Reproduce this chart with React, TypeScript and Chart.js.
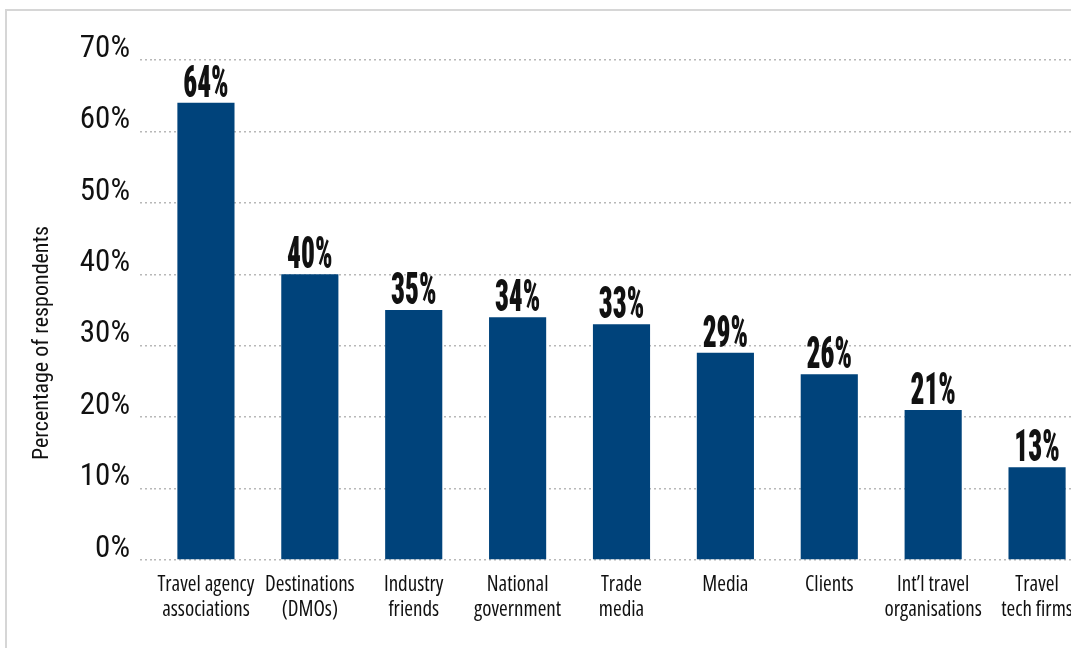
import React, { useEffect, useRef } from "react";
import { Chart, registerables } from "chart.js";

Chart.register(...registerables);

const categories: string[][] = [
  ["Travel agency", "associations"],
  ["Destinations", "(DMOs)"],
  ["Industry", "friends"],
  ["National", "government"],
  ["Trade", "media"],
  ["Media"],
  ["Clients"],
  ["Int\u2019l travel", "organisations"],
  ["Travel", "tech firms"],
];
const values: number[] = [64, 40, 35, 34, 33, 29, 26, 21, 13];
const yTickValues: number[] = [0, 10, 20, 30, 40, 50, 60, 70];
const yAxisTitle = "Percentage of respondents";

const BAR_COLOR = "#00437b";
const TEXT_COLOR = "#111111";
const GRID_COLOR = "#b8b8b8";
const FONT = "'Roboto Condensed', 'Liberation Sans', sans-serif";
const XFONT = "'Open Sans', 'Roboto Condensed', sans-serif";

const valueLabelPlugin = {
  id: "valueLabels",
  afterDatasetsDraw(chart: any) {
    const ctx = chart.ctx;
    const meta = chart.getDatasetMeta(0);
    ctx.save();
    ctx.fillStyle = TEXT_COLOR;
    ctx.font = `900 44px ${FONT}`;
    ctx.textAlign = "center";
    ctx.textBaseline = "alphabetic";
    meta.data.forEach((bar: any, i: number) => {
      const v = chart.data.datasets[0].data[i];
      ctx.save();
      ctx.translate(bar.x, bar.y - 6);
      ctx.scale(0.62, 1);
      ctx.fillText(`${v}%`, 0, 0);
      ctx.restore();
    });
    ctx.restore();
  },
};

const yTitlePlugin = {
  id: "yTitle",
  afterDraw(chart: any) {
    const ctx = chart.ctx;
    ctx.save();
    ctx.translate(42, 343);
    ctx.rotate(-Math.PI / 2);
    ctx.fillStyle = TEXT_COLOR;
    ctx.font = `22px ${FONT}`;
    ctx.textAlign = "center";
    ctx.textBaseline = "middle";
    ctx.fillText(yAxisTitle, 0, 0);
    ctx.restore();
  },
};

export default function App() {
  const canvasRef = useRef<HTMLCanvasElement | null>(null);

  useEffect(() => {
    if (!canvasRef.current) return;
    const chart = new Chart(canvasRef.current, {
      type: "bar",
      data: {
        labels: categories,
        datasets: [
          {
            data: values,
            backgroundColor: BAR_COLOR,
            borderWidth: 0,
            categoryPercentage: 1,
            barPercentage: 0.55,
          },
        ],
      },
      options: {
        animation: false,
        responsive: false,
        layout: { padding: { top: 60, right: 11, bottom: 0, left: 0 } },
        plugins: {
          legend: { display: false },
          tooltip: { enabled: false },
          title: { display: false },
        },
        scales: {
          x: {
            grid: { display: false },
            border: { display: false },
            ticks: {
              color: TEXT_COLOR,
              font: { family: XFONT, size: 21, weight: "condensed", lineHeight: 1.2 },
              padding: 4,
              autoSkip: false,
              maxRotation: 0,
              minRotation: 0,
            },
            afterFit: (s: any) => {
              s.height = 88;
            },
          },
          y: {
            min: 0,
            max: 70,
            afterBuildTicks: (s: any) => {
              s.ticks = yTickValues.map((v) => ({ value: v }));
            },
            grid: {
              color: GRID_COLOR,
              lineWidth: 1.5,
              drawTicks: true,
              tickLength: 14,
              tickColor: GRID_COLOR,
              tickWidth: 1.5,
              tickBorderDash: [2, 3],
            },
            border: { display: false, dash: [2, 3] },
            ticks: {
              color: TEXT_COLOR,
              font: { family: FONT, size: 31 },
              padding: 10,
              labelOffset: -11,
              callback: (v: any) => `${v}%`,
            },
            afterFit: (s: any) => {
              s.width = 154;
            },
          },
        },
      },
      plugins: [valueLabelPlugin, yTitlePlugin],
    });
    return () => chart.destroy();
  }, []);

  return (
    <div
      style={{
        position: "fixed",
        left: 0,
        top: 0,
        width: 1071,
        height: 648,
        overflow: "hidden",
        background: "#ffffff",
      }}
    >
      <div
        style={{
          position: "absolute",
          left: 5,
          top: 9,
          width: 1200,
          height: 800,
          borderLeft: "2px solid #d6d6d6",
          borderTop: "2px solid #d6d6d6",
        }}
      />
      <canvas
        ref={canvasRef}
        width={1100}
        height={648}
        style={{ position: "absolute", left: 0, top: 0, width: 1100, height: 648 }}
      />
    </div>
  );
}
